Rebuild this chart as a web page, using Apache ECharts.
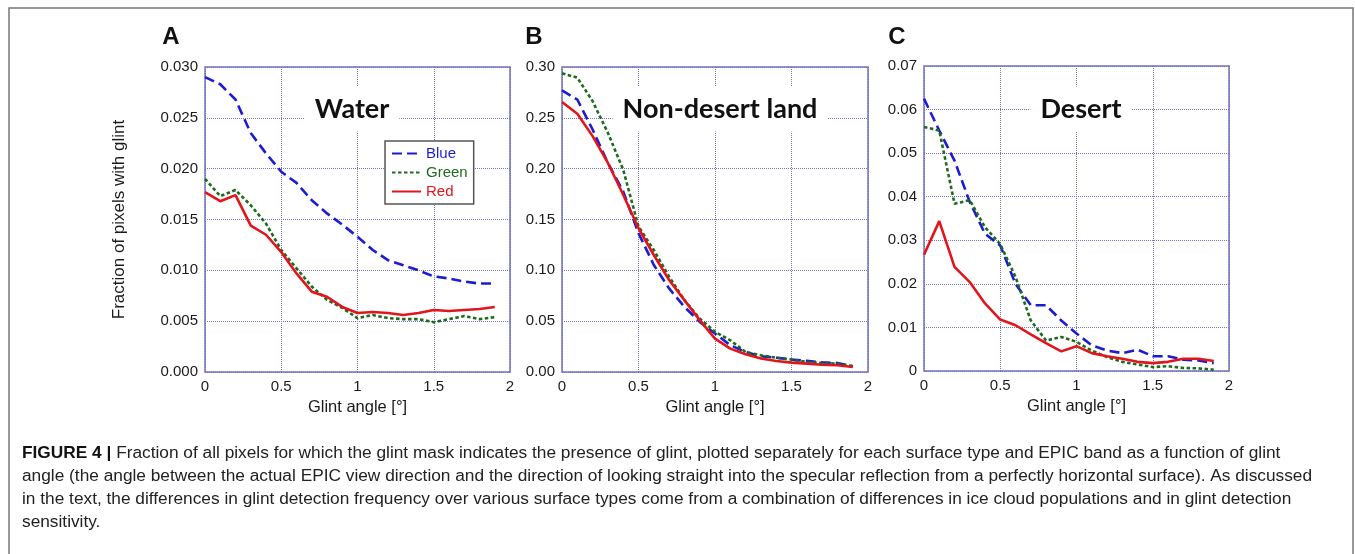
<!DOCTYPE html>
<html>
<head>
<meta charset="utf-8">
<script src="https://cdn.jsdelivr.net/npm/echarts@6/dist/echarts.min.js"></script>
<style>
html, body { margin: 0; padding: 0; background: #fff; }
#chart { width: 1355px; height: 554px; }
</style>
</head>
<body>
<div id="chart"></div>
<script>
// glint angle in degrees (x for every panel)
const angles = [0, 0.1, 0.2, 0.3, 0.4, 0.5, 0.6, 0.7, 0.8, 0.9, 1.0, 1.1, 1.2, 1.3, 1.4, 1.5, 1.6, 1.7, 1.8, 1.9];
const xTicks = [0, 0.5, 1, 1.5, 2];

// A - Water
const waterBlue  = [0.0290, 0.0283, 0.0268, 0.0235, 0.0215, 0.0197, 0.0186, 0.0169, 0.0156, 0.0145, 0.0133, 0.0120, 0.0110, 0.0105, 0.0100, 0.0094, 0.0092, 0.0089, 0.0087, 0.0087];
const waterGreen = [0.0190, 0.0173, 0.0179, 0.0164, 0.0146, 0.0120, 0.0102, 0.0084, 0.0071, 0.0063, 0.0053, 0.0056, 0.0053, 0.0052, 0.0052, 0.0049, 0.0052, 0.0055, 0.0052, 0.0054];
const waterRed   = [0.0177, 0.0168, 0.0174, 0.0144, 0.0135, 0.0118, 0.0097, 0.0079, 0.0074, 0.0064, 0.0058, 0.0059, 0.0058, 0.0056, 0.0058, 0.0061, 0.0060, 0.0061, 0.0062, 0.0064];

// B - Non-desert land
const landBlue  = [0.277, 0.268, 0.2385, 0.2056, 0.1776, 0.1365, 0.1053, 0.0822, 0.0641, 0.0493, 0.0378, 0.0263, 0.0197, 0.0155, 0.0141, 0.0122, 0.0109, 0.0095, 0.0089, 0.0056];
const landGreen = [0.2938, 0.2895, 0.2664, 0.2352, 0.199, 0.1431, 0.120, 0.0938, 0.0707, 0.0526, 0.0395, 0.0312, 0.0197, 0.0164, 0.0141, 0.0122, 0.0099, 0.0089, 0.0082, 0.0059];
const landRed   = [0.2655, 0.254, 0.232, 0.2056, 0.1743, 0.1414, 0.1151, 0.0905, 0.0707, 0.051, 0.0329, 0.023, 0.0174, 0.0132, 0.0109, 0.0092, 0.0082, 0.0072, 0.0066, 0.0049];

// C - Desert
const desertBlue  = [0.0625, 0.0552, 0.0483, 0.0388, 0.0315, 0.0288, 0.0200, 0.0151, 0.0151, 0.0116, 0.0086, 0.0059, 0.0047, 0.0041, 0.0049, 0.0034, 0.0034, 0.0026, 0.0024, 0.0018];
const desertGreen = [0.0560, 0.0552, 0.0384, 0.0392, 0.0330, 0.0291, 0.0216, 0.0116, 0.0070, 0.0078, 0.0067, 0.0047, 0.0032, 0.0021, 0.0015, 0.0009, 0.0011, 0.0007, 0.0006, 0.0003];
const desertRed   = [0.0267, 0.0344, 0.0239, 0.0204, 0.0155, 0.0118, 0.0105, 0.0084, 0.0064, 0.0045, 0.0057, 0.0041, 0.0034, 0.0028, 0.0021, 0.0018, 0.0021, 0.0028, 0.0028, 0.0023];

const bandNames = ['Blue', 'Green', 'Red'];
const panelLetters = ['A', 'B', 'C'];
const panelNames = ['Water', 'Non-desert land', 'Desert'];
const yMax = [0.030, 0.30, 0.07];
const yStep = [0.005, 0.05, 0.01];
const yDigits = [3, 2, 2];

const caption = [
    'Fraction of all pixels for which the glint mask indicates the presence of glint, plotted separately for each surface type and EPIC band as a function of glint',
    'angle (the angle between the actual EPIC view direction and the direction of looking straight into the specular reflection from a perfectly horizontal surface). As discussed',
    'in the text, the differences in glint detection frequency over various surface types come from a combination of differences in ice cloud populations and in glint detection',
    'sensitivity.'
];

const bandColors = ['#1c1cd2', '#1d6b1d', '#e2141c'];
const bandDash = [[10, 5], [3.5, 2.5], 'solid'];
const axisColor = '#7373b8';
const font = 'Liberation Sans, Arial, sans-serif';

const panelData = [
    [waterBlue, waterGreen, waterRed],
    [landBlue, landGreen, landRed],
    [desertBlue, desertGreen, desertRed]
];

const grids = [
    { left: 205, top: 67, width: 305, height: 305 },
    { left: 562, top: 67, width: 306, height: 305 },
    { left: 924, top: 66, width: 305, height: 305 }
];

function pairs(values) {
    return angles.map(function (a, i) { return [a, values[i]]; });
}

const xAxes = [], yAxes = [], series = [], graphics = [];

grids.forEach(function (g, p) {
    g.show = true;
    g.borderColor = axisColor;
    g.borderWidth = 1.5;
    g.backgroundColor = '#fff';

    xAxes.push({
        gridIndex: p,
        type: 'value',
        min: xTicks[0],
        max: xTicks[xTicks.length - 1],
        interval: 0.5,
        name: 'Glint angle [°]',
        nameLocation: 'middle',
        nameGap: 27,
        nameTextStyle: { fontFamily: font, fontSize: 16.5, color: '#1a1a1a' },
        axisLine: { show: false },
        axisTick: { show: false },
        axisLabel: { fontFamily: font, fontSize: 15, color: '#1a1a1a', margin: 7 },
        splitLine: { lineStyle: { color: axisColor, type: 'dotted', width: 1 } }
    });

    yAxes.push({
        gridIndex: p,
        type: 'value',
        min: 0,
        max: yMax[p],
        interval: yStep[p],
        name: p === 0 ? 'Fraction of pixels with glint' : '',
        nameLocation: 'middle',
        nameGap: 77,
        nameTextStyle: { fontFamily: font, fontSize: 17, color: '#1a1a1a' },
        axisLine: { show: false },
        axisTick: { show: false },
        axisLabel: {
            fontFamily: font, fontSize: 15, color: '#1a1a1a', margin: 7,
            formatter: function (v) {
                if (p === 2 && v === 0) return '0';
                return v.toFixed(yDigits[p]);
            }
        },
        splitLine: { lineStyle: { color: axisColor, type: 'dotted', width: 1 } }
    });

    panelData[p].forEach(function (vals, b) {
        series.push({
            name: bandNames[b],
            type: 'line',
            xAxisIndex: p,
            yAxisIndex: p,
            data: pairs(vals),
            symbol: 'none',
            z: 3 + b,
            lineStyle: { color: bandColors[b], width: 2.6, type: bandDash[b] },
            itemStyle: { color: bandColors[b] },
            animation: false
        });
    });

    // panel letter
    graphics.push({
        type: 'text',
        x: [171, 534, 897][p],
        y: 37,
        style: {
            text: panelLetters[p], fontFamily: font, fontWeight: 'bold', fontSize: 24,
            fill: '#111', align: 'center', verticalAlign: 'middle'
        }
    });
    // surface label with white box over the grid
    graphics.push({
        type: 'text',
        x: [352, 720, 1081][p],
        y: 109,
        z: 1,
        style: {
            text: panelNames[p], fontFamily: 'Lato, Open Sans, sans-serif', fontWeight: 'bold', fontSize: 27,
            fill: '#111', align: 'center', verticalAlign: 'middle',
            backgroundColor: '#fff', padding: [8, 10, 10, 10]
        }
    });
});

// outer frame
graphics.push({
    type: 'rect',
    shape: { x: 9, y: 8, width: 1344, height: 600 },
    style: { fill: 'none', stroke: '#777', lineWidth: 1.5 },
    silent: true
});

// caption
graphics.push({
    type: 'text',
    x: 22,
    y: 442,
    style: {
        text: '{b|FIGURE 4 |}{n| ' + caption[0] + '}\n{n|' + caption.slice(1).join('}\n{n|') + '}',
        fontFamily: font,
        fontSize: 17.3,
        lineHeight: 23,
        fill: '#222',
        rich: {
            b: { fontFamily: font, fontSize: 17.3, fontWeight: 'bold', fill: '#111', lineHeight: 23 },
            n: { fontFamily: font, fontSize: 17.3, fill: '#222', lineHeight: 23 }
        }
    }
});

const option = {
    backgroundColor: '#fff',
    animation: false,
    grid: grids,
    xAxis: xAxes,
    yAxis: yAxes,
    legend: {
        orient: 'vertical',
        left: 385,
        top: 141,
        padding: [5, 6, 5, 6],
        itemWidth: 29,
        itemHeight: 14,
        itemGap: 4,
        backgroundColor: '#fff',
        borderColor: '#555',
        borderWidth: 1.5,
        borderRadius: 0,
        itemStyle: { opacity: 0 },
        textStyle: { fontFamily: font, fontSize: 15 },
        data: bandNames.map(function (n, i) {
            return { name: n, textStyle: { color: bandColors[i] } };
        })
    },
    graphic: graphics,
    series: series
};

const chart = echarts.init(document.getElementById('chart'));
chart.setOption(option);
</script>
</body>
</html>
